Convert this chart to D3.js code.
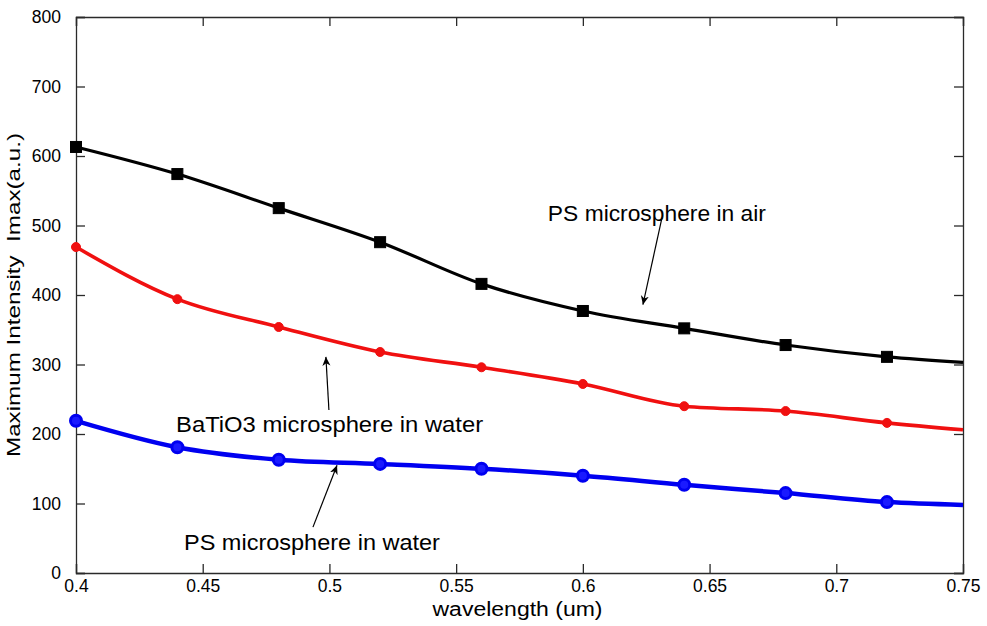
<!DOCTYPE html>
<html>
<head>
<meta charset="utf-8">
<script src="https://cdn.jsdelivr.net/npm/d3@7"></script>
<style>
  html, body { margin: 0; padding: 0; background: #fff; }
  svg { display: block; font-family: Arial, "Liberation Sans", Helvetica, sans-serif; }
</style>
</head>
<body>
<svg id="chart" width="987" height="626"></svg>
<script>
// ---- data ----
const wavelengths = [0.4, 0.44, 0.48, 0.52, 0.56, 0.6, 0.64, 0.68, 0.72, 0.75];
const markerCount = 9; // markers drawn at the first 9 wavelengths
const psAir = [613, 574, 525, 476, 416, 377, 352, 328, 311, 303];
const batioWater = [469, 394, 354, 318, 296, 272, 240, 233, 216, 206];
const psWater = [219, 181, 163, 157, 150, 140, 127, 115, 102, 98];
const xTicks = [0.4, 0.45, 0.5, 0.55, 0.6, 0.65, 0.7, 0.75];
const yTicks = [0, 100, 200, 300, 400, 500, 600, 700, 800];
const annotations = [
  { text: "PS microsphere in air", x: 0.5862, y: 506, len: 218, from: [0.6312, 511], to: [0.6237, 386] },
  { text: "BaTiO3 microsphere in water", x: 0.4395, y: 203, len: 307, from: [0.4998, 234.5], to: [0.4986, 311] },
  { text: "PS microsphere in water", x: 0.4426, y: 33, len: 256, from: [0.4935, 66], to: [0.503, 155] }
];

// ---- layout ----
const W = 987, H = 626;
const m = { left: 76, right: 24, top: 17, bottom: 53 };
const svg = d3.select("#chart");
const x = d3.scaleLinear().domain([0.4, 0.75]).range([m.left, W - m.right]);
const y = d3.scaleLinear().domain([0, 800]).range([H - m.bottom, m.top]);
const axisColor = "#2a2a2a";

svg.append("rect").attr("width", W).attr("height", H).attr("fill", "#fff");

// axes (box with inward ticks on all sides)
const g = svg.append("g");
const bottomAxis = d3.axisBottom(x).tickValues(xTicks).tickSize(-9).tickPadding(7)
  .tickFormat(d => d3.format("")(+d.toFixed(2)));
const leftAxis = d3.axisLeft(y).tickValues(yTicks).tickSize(-9).tickPadding(15);
const topAxis = d3.axisTop(x).tickValues(xTicks).tickSize(-9).tickFormat("");
const rightAxis = d3.axisRight(y).tickValues(yTicks).tickSize(-9).tickFormat("");

g.append("g").attr("transform", `translate(0,${H - m.bottom})`).call(bottomAxis);
g.append("g").attr("transform", `translate(${m.left},0)`).call(leftAxis);
g.append("g").attr("transform", `translate(0,${m.top})`).call(topAxis);
g.append("g").attr("transform", `translate(${W - m.right},0)`).call(rightAxis);
g.selectAll(".domain").attr("stroke", axisColor).attr("stroke-width", 1.3);
g.selectAll(".tick line").attr("stroke", axisColor).attr("stroke-width", 1.3);
g.selectAll(".tick text").attr("fill", "#000").attr("font-size", 17.5)
  .attr("font-family", "Arial, 'Liberation Sans', sans-serif");

// series
const series = [
  { values: psWater, color: "#0000f0", width: 4.5, marker: "circle", size: 5.5, stroke: 3, fill: "#1a1aff" },
  { values: batioWater, color: "#f01010", width: 3.6, marker: "circle", size: 4.5, stroke: 1, fill: "#f01010" },
  { values: psAir, color: "#000", width: 3.2, marker: "square", size: 11, stroke: 1, fill: "#000" }
];
const line = d3.line().x(d => x(d[0])).y(d => y(d[1])).curve(d3.curveMonotoneX);
series.forEach(s => {
  const pts = wavelengths.map((w, i) => [w, s.values[i]]);
  svg.append("path").datum(pts).attr("d", line)
    .attr("fill", "none").attr("stroke", s.color).attr("stroke-width", s.width)
    .attr("stroke-linejoin", "round");
  const mp = pts.slice(0, markerCount);
  if (s.marker === "circle") {
    svg.selectAll(null).data(mp).enter().append("circle")
      .attr("cx", d => x(d[0])).attr("cy", d => y(d[1])).attr("r", s.size)
      .attr("fill", s.fill).attr("stroke", s.color).attr("stroke-width", s.stroke);
  } else {
    svg.selectAll(null).data(mp).enter().append("rect")
      .attr("x", d => x(d[0]) - s.size / 2).attr("y", d => y(d[1]) - s.size / 2)
      .attr("width", s.size).attr("height", s.size)
      .attr("fill", s.fill).attr("stroke", s.color).attr("stroke-width", s.stroke);
  }
});

// annotations with arrows
const defs = svg.append("defs");
defs.append("marker").attr("id", "arrow").attr("viewBox", "0 0 10 10")
  .attr("refX", 10).attr("refY", 5).attr("markerWidth", 9).attr("markerHeight", 9)
  .attr("markerUnits", "userSpaceOnUse").attr("orient", "auto")
  .append("path").attr("d", "M0,0.5 L10,5 L0,9.5 L3,5 Z").attr("fill", "#000");
annotations.forEach(a => {
  svg.append("line")
    .attr("x1", x(a.from[0])).attr("y1", y(a.from[1]))
    .attr("x2", x(a.to[0])).attr("y2", y(a.to[1]))
    .attr("stroke", "#000").attr("stroke-width", 1.2)
    .attr("marker-end", "url(#arrow)");
  svg.append("text").attr("x", x(a.x)).attr("y", y(a.y))
    .attr("font-size", 22).attr("fill", "#000")
    .attr("textLength", a.len).attr("lengthAdjust", "spacingAndGlyphs")
    .text(a.text);
});

// axis labels
svg.append("text").attr("x", (m.left + W - m.right) / 2 - 2).attr("y", 616)
  .attr("text-anchor", "middle").attr("font-size", 20).attr("fill", "#000")
  .attr("textLength", 170).attr("lengthAdjust", "spacingAndGlyphs")
  .text("wavelength (um)");
svg.append("text")
  .attr("transform", `translate(20,${(m.top + H - m.bottom) / 2}) rotate(-90)`)
  .attr("text-anchor", "middle").attr("font-size", 19).attr("fill", "#000")
  .style("white-space", "pre")
  .attr("textLength", 324).attr("lengthAdjust", "spacingAndGlyphs")
  .text("Maximum Intensity  Imax(a.u.)");
</script>
</body>
</html>
